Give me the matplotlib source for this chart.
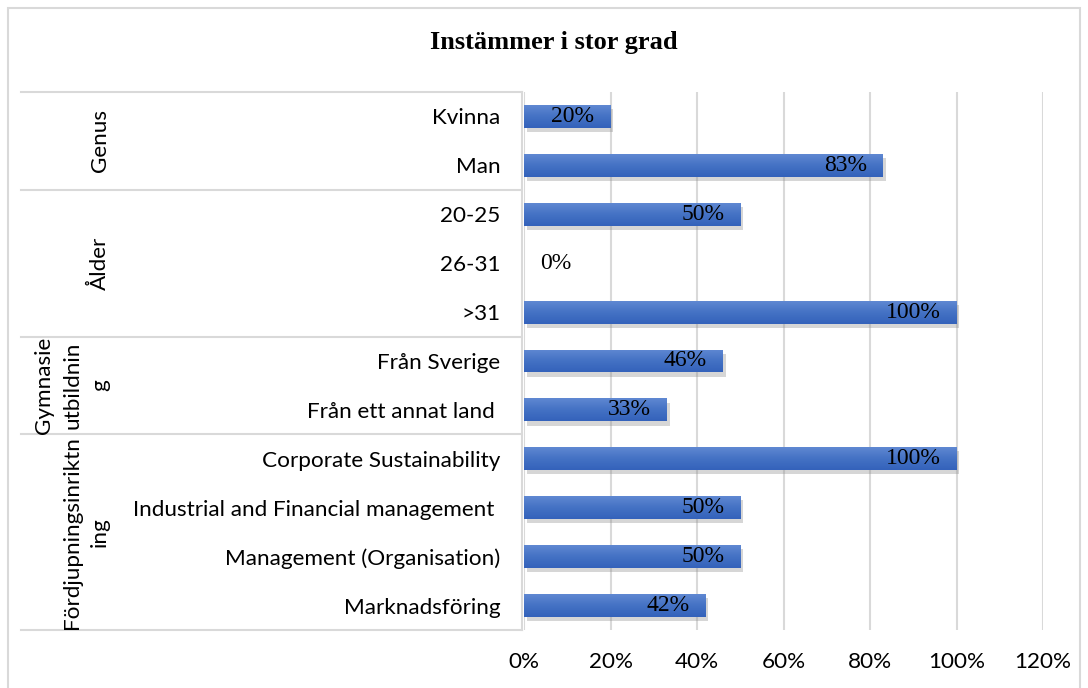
import numpy as np
import matplotlib.pyplot as plt
import matplotlib.patheffects as pe
from matplotlib.transforms import blended_transform_factory
from matplotlib.patches import Rectangle
from matplotlib.colors import LinearSegmentedColormap

title = "Instämmer i stor grad"
groups = ["Genus", "Ålder", "Gymnasie\nutbildnin\ng", "Fördjupningsinriktn\ning"]
group_sizes = [2, 3, 2, 4]
categories = ["Kvinna", "Man", "20-25", "26-31", ">31", "Från Sverige",
              "Från ett annat land ", "Corporate Sustainability",
              "Industrial and Financial management ", "Management (Organisation)",
              "Marknadsföring"]
values = [0.20, 0.83, 0.50, 0.0, 1.00, 0.46, 0.33, 1.00, 0.50, 0.50, 0.42]
xticks = [0, 0.2, 0.4, 0.6, 0.8, 1.0, 1.2]

W, H = 1088, 688
fig = plt.figure(figsize=(W / 100, H / 100), dpi=100)
sans = ["Lato", "DejaVu Sans"]
serif = ["Liberation Serif", "DejaVu Serif"]
grid_col = "#D9D9D9"
fs = 16.2

# plot area in pixels
left, right, top, bottom = 524, 1043, 92, 630
ax = fig.add_axes([left / W, 1 - bottom / H, (right - left) / W, (bottom - top) / H])

y = list(range(len(categories)))
bh = 0.47
bars = ax.barh(y, values, height=bh, color="#4472C4", zorder=3)
grad = LinearSegmentedColormap.from_list("g", ["#5F88D2", "#4472C4", "#3462BB"])
for b, yi, v in zip(bars, y, values):
    b.set_path_effects([pe.SimplePatchShadow(offset=(2, -3), shadow_rgbFace="#8a8a8a", alpha=0.35),
                        pe.Normal()])
    if v > 0:
        im = ax.imshow(np.linspace(0, 1, 50).reshape(-1, 1), cmap=grad, aspect="auto",
                       extent=[0, v, yi + bh / 2, yi - bh / 2], zorder=3.5)
        im.set_clip_path(b)

ax.set_xlim(0, 1.2)
ax.set_ylim(len(categories) - 0.5, -0.5)
ax.set_xticks(xticks)
ax.set_xticklabels([f"{int(round(t * 100))}%" for t in xticks], fontfamily=sans, fontsize=fs)
ax.set_yticks(y)
ax.set_yticklabels(categories, fontfamily=sans, fontsize=fs)
ax.tick_params(axis="both", length=0)
ax.tick_params(axis="x", pad=16)
ax.tick_params(axis="y", pad=17)
for s in ax.spines.values():
    s.set_visible(False)
ax.grid(axis="x", color=grid_col, linewidth=1.5, zorder=0)
ax.set_axisbelow(True)

# value labels
for yi, v in zip(y, values):
    if v > 0:
        ax.annotate(f"{int(round(v * 100))}%", (v, yi), xytext=(-16, 0), textcoords="offset pixels",
                    ha="right", va="center", fontfamily=serif, fontsize=17, zorder=4)
    else:
        ax.annotate(f"{int(round(v * 100))}%", (v, yi), xytext=(16, 0), textcoords="offset pixels",
                    ha="left", va="center", fontfamily=serif, fontsize=17, zorder=4)

# group table on the left
tr = blended_transform_factory(fig.transFigure, ax.transData)
x0, x1 = 21 / W, (left - 2) / W
bounds = [-0.5]
for n in group_sizes:
    bounds.append(bounds[-1] + n)
for bnd in bounds:
    fig.add_artist(plt.Line2D([x0, x1], [bnd, bnd], transform=tr, color=grid_col, lw=1.5))
fig.add_artist(plt.Line2D([x1, x1], [bounds[0], bounds[-1]], transform=tr, color=grid_col, lw=1.5))
for g, lo, hi in zip(groups, bounds[:-1], bounds[1:]):
    fig.text(110 / W, (lo + hi) / 2, g, transform=tr, rotation=90, ha="right", va="center",
             multialignment="center", linespacing=1.5, fontfamily=sans, fontsize=fs)

fig.text(554 / W, 1 - 43 / H, title, ha="center", va="center", fontfamily=serif,
         fontweight="bold", fontsize=19)

# chart border
fig.add_artist(Rectangle((8 / W, -0.05), 1072 / W, 1 - 8 / H + 0.05, transform=fig.transFigure,
                         fill=False, edgecolor=grid_col, lw=1.5))

fig.savefig("out.png", dpi=100)
